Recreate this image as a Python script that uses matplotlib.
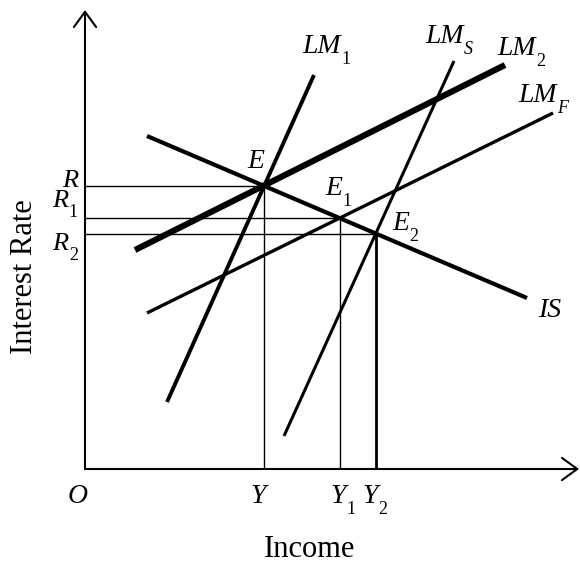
import numpy as np
import matplotlib
matplotlib.use("Agg")
import matplotlib.pyplot as plt

plt.rcParams["font.family"] = ["Liberation Serif", "DejaVu Serif"]

# Curve endpoints in (income, interest rate) units, origin at O
curve_names = ["IS", "LM1", "LM2", "LMF", "LMS"]
curve_x0 = [62, 82, 50, 62, 199]
curve_y0 = [333, 67, 219, 156, 33]
curve_x1 = [442, 229, 420, 468, 369]
curve_y1 = [171, 394, 404, 356, 408]
curve_lw = [3.0, 2.8, 4.4, 2.4, 2.2]

# Curve labels: main text, subscript, anchor x, baseline y
curve_main = ["IS", "LM", "LM", "LM", "LM"]
curve_sub = ["", "1", "2", "F", "S"]
label_x = [453, 217, 412, 433, 340]
label_y = [152, 416, 414, 367, 426]

# Axis extents
x_axis_end = 494
y_axis_end = 459

curves = {n: (np.array([a, b]), np.array([c, d]))
          for n, a, c, b, d in zip(curve_names, curve_x0, curve_y0, curve_x1, curve_y1)}


def intersect(n1, n2):
    (xa, ya), (xb, yb) = curves[n1], curves[n2]
    m1 = (ya[1] - ya[0]) / (xa[1] - xa[0])
    m2 = (yb[1] - yb[0]) / (xb[1] - xb[0])
    x = (yb[0] - ya[0] + m1 * xa[0] - m2 * xb[0]) / (m1 - m2)
    return x, ya[0] + m1 * (x - xa[0])


E = intersect("IS", "LM1")
E1 = intersect("IS", "LMF")
E2 = intersect("IS", "LMS")

fig = plt.figure(figsize=(5.8, 5.65), dpi=100)
ax = fig.add_axes([0, 0, 1, 1])
ax.set_xlim(-85, 495)
ax.set_ylim(-96, 469)
ax.axis("off")

FS = 20
SUB_FS = 13


def label(x, y, main, sub="", ha="left", size=FS):
    t = ax.text(x, y, main, fontsize=size, fontstyle="italic", ha=ha,
                va="baseline", color="black")
    if sub:
        style = "normal" if sub.isdigit() else "italic"
        ax.annotate(sub, xy=(1, 0), xycoords=t, xytext=(0.5, -3.5),
                    textcoords="offset points", fontsize=SUB_FS,
                    fontstyle=style, ha="left", va="baseline", color="black")
    return t


# Axes with open arrowheads
arrow = dict(arrowstyle="->,head_length=0.55,head_width=0.4", lw=1.5,
             color="black", mutation_scale=20, shrinkA=0, shrinkB=0)
ax.annotate("", xy=(0, y_axis_end), xytext=(0, 0), arrowprops=arrow)
ax.annotate("", xy=(x_axis_end, 0), xytext=(0, 0), arrowprops=arrow)

# Guide lines to equilibria
for (px, py), lw in zip([E, E1, E2], [1.0, 1.0, 2.0]):
    ax.plot([0, px], [py, py], color="black", lw=1.0, solid_capstyle="butt")
    ax.plot([px, px], [0, py], color="black", lw=lw, solid_capstyle="butt")

# IS and LM curves
for n, lw in zip(curve_names, curve_lw):
    xs, ys = curves[n]
    ax.plot(xs, ys, color="black", lw=lw, solid_capstyle="butt")

for m, s, x, y in zip(curve_main, curve_sub, label_x, label_y):
    label(x, y, m, s)

# Equilibrium point labels
label(E[0] - 8, 301, "E", ha="center")
label(240, 274, "E", "1")
label(307, 239, "E", "2")

# Interest-rate labels
label(-7, 282, "R", ha="right", size=19)
label(-33, 262, "R", "1", size=19)
label(-33, 219, "R", "2", size=19)

# Income labels
label(-17, -34, "O")
label(165, -34, "Y")
label(245, -34, "Y", "1")
label(277, -34, "Y", "2")

ax.text(225, -88, "Income", fontsize=22, ha="center", va="baseline")
ax.text(-60, 192, "Interest Rate", fontsize=22, ha="center", va="center",
        rotation=90)

fig.savefig("out.png", dpi=100)
